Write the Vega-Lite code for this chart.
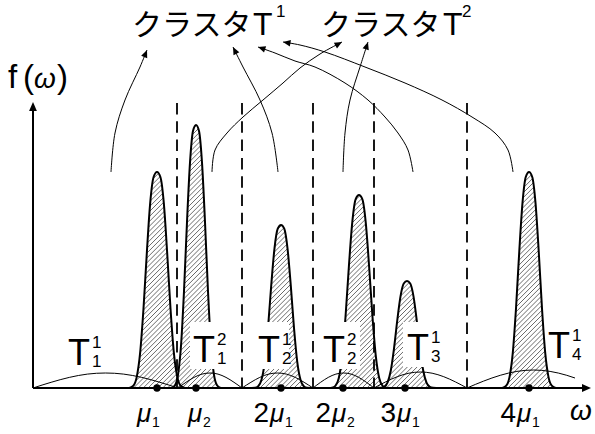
{
"$schema":"https://vega.github.io/schema/vega-lite/v6.json",
"width":595,"height":434,
"autosize":{"type":"fit","contains":"padding"},
"padding":0,
"background":"white",
"config":{"view":{"stroke":null}},
"datasets":{
"hatch":[{"x":126.6,"f":0},{"x":130,"f":0.3},{"x":133.4,"f":2.3},{"x":136.7,"f":10.9},{"x":140.1,"f":34.8},{"x":143.5,"f":79.5},{"x":146.9,"f":136.3},{"x":150.2,"f":185.1},{"x":153.6,"f":211},{"x":157,"f":216},{"x":160.4,"f":211},{"x":163.8,"f":185.1},{"x":167.1,"f":136.3},{"x":170.5,"f":79.5},{"x":173.9,"f":34.8},{"x":177.5,"f":10.5},{"x":181,"f":42.3},{"x":184,"f":96.8},{"x":187,"f":166},{"x":190,"f":225.4},{"x":193,"f":257},{"x":196,"f":263},{"x":199,"f":257},{"x":202,"f":225.4},{"x":205,"f":166},{"x":208,"f":96.8},{"x":211,"f":42.3},{"x":214,"f":13.2},{"x":217,"f":2.8},{"x":220,"f":0.4},{"x":223,"f":0},
{"x":251.75,"f":0},{"x":255,"f":0.2},{"x":258.25,"f":1.8},{"x":261.5,"f":8.2},{"x":264.75,"f":26.2},{"x":268,"f":60},{"x":271.25,"f":102.9},{"x":274.5,"f":139.7},{"x":277.75,"f":159.3},{"x":281,"f":163},{"x":284.25,"f":159.3},{"x":287.5,"f":139.7},{"x":290.75,"f":102.9},{"x":294,"f":60},{"x":297.25,"f":26.2},{"x":300.5,"f":8.2},{"x":303.75,"f":1.8},{"x":307,"f":0.2},{"x":310.25,"f":0},
{"x":328.6,"f":0},{"x":332,"f":0.3},{"x":335.4,"f":2.1},{"x":338.75,"f":9.7},{"x":342.1,"f":31.1},{"x":345.5,"f":71},{"x":348.9,"f":121.8},{"x":352.25,"f":165.4},{"x":355.6,"f":188.6},{"x":359,"f":193},{"x":362.4,"f":188.6},{"x":365.75,"f":165.4},{"x":369.1,"f":121.8},{"x":372.5,"f":71},{"x":375.9,"f":31.1},{"x":379.25,"f":9.7},{"x":382.6,"f":2.1},{"x":384.25,"f":1.2},{"x":387.5,"f":5.4},{"x":390.75,"f":17.2},{"x":394,"f":39.4},{"x":397.25,"f":67.5},{"x":400.5,"f":91.7},{"x":403.75,"f":104.5},{"x":407,"f":107},{"x":410.25,"f":104.5},{"x":413.5,"f":91.7},{"x":416.75,"f":67.5},{"x":420,"f":39.4},{"x":423.25,"f":17.2},{"x":426.5,"f":5.4},{"x":429.75,"f":1.2},{"x":433,"f":0.2},{"x":436.25,"f":0},
{"x":499.75,"f":0},{"x":503,"f":0.3},{"x":506.25,"f":2.3},{"x":509.5,"f":10.9},{"x":512.75,"f":34.8},{"x":516,"f":79.5},{"x":519.25,"f":136.3},{"x":522.5,"f":185.1},{"x":525.75,"f":211},{"x":529,"f":216},{"x":532.25,"f":211},{"x":535.5,"f":185.1},{"x":538.75,"f":136.3},{"x":542,"f":79.5},{"x":545.25,"f":34.8},{"x":548.5,"f":10.9},{"x":551.75,"f":2.3},{"x":555,"f":0.3},{"x":558.25,"f":0}],
"peaks":[
{"p":1,"x":126.6,"f":0},{"p":1,"x":130,"f":0.3},{"p":1,"x":133.4,"f":2.3},{"p":1,"x":136.7,"f":10.9},{"p":1,"x":140.1,"f":34.8},{"p":1,"x":143.5,"f":79.5},{"p":1,"x":146.9,"f":136.3},{"p":1,"x":150.2,"f":185.1},{"p":1,"x":153.6,"f":211},{"p":1,"x":157,"f":216},{"p":1,"x":160.4,"f":211},{"p":1,"x":163.8,"f":185.1},{"p":1,"x":167.1,"f":136.3},{"p":1,"x":170.5,"f":79.5},{"p":1,"x":173.9,"f":34.8},{"p":1,"x":177.3,"f":10.9},{"p":1,"x":180.6,"f":2.3},{"p":1,"x":184,"f":0.3},{"p":1,"x":187.4,"f":0},
{"p":2,"x":169,"f":0},{"p":2,"x":172,"f":0.4},{"p":2,"x":175,"f":2.8},{"p":2,"x":178,"f":13.2},{"p":2,"x":181,"f":42.3},{"p":2,"x":184,"f":96.8},{"p":2,"x":187,"f":166},{"p":2,"x":190,"f":225.4},{"p":2,"x":193,"f":257},{"p":2,"x":196,"f":263},{"p":2,"x":199,"f":257},{"p":2,"x":202,"f":225.4},{"p":2,"x":205,"f":166},{"p":2,"x":208,"f":96.8},{"p":2,"x":211,"f":42.3},{"p":2,"x":214,"f":13.2},{"p":2,"x":217,"f":2.8},{"p":2,"x":220,"f":0.4},{"p":2,"x":223,"f":0},
{"p":3,"x":251.75,"f":0},{"p":3,"x":255,"f":0.2},{"p":3,"x":258.25,"f":1.8},{"p":3,"x":261.5,"f":8.2},{"p":3,"x":264.75,"f":26.2},{"p":3,"x":268,"f":60},{"p":3,"x":271.25,"f":102.9},{"p":3,"x":274.5,"f":139.7},{"p":3,"x":277.75,"f":159.3},{"p":3,"x":281,"f":163},{"p":3,"x":284.25,"f":159.3},{"p":3,"x":287.5,"f":139.7},{"p":3,"x":290.75,"f":102.9},{"p":3,"x":294,"f":60},{"p":3,"x":297.25,"f":26.2},{"p":3,"x":300.5,"f":8.2},{"p":3,"x":303.75,"f":1.8},{"p":3,"x":307,"f":0.2},{"p":3,"x":310.25,"f":0},
{"p":4,"x":328.6,"f":0},{"p":4,"x":332,"f":0.3},{"p":4,"x":335.4,"f":2.1},{"p":4,"x":338.75,"f":9.7},{"p":4,"x":342.1,"f":31.1},{"p":4,"x":345.5,"f":71},{"p":4,"x":348.9,"f":121.8},{"p":4,"x":352.25,"f":165.4},{"p":4,"x":355.6,"f":188.6},{"p":4,"x":359,"f":193},{"p":4,"x":362.4,"f":188.6},{"p":4,"x":365.75,"f":165.4},{"p":4,"x":369.1,"f":121.8},{"p":4,"x":372.5,"f":71},{"p":4,"x":375.9,"f":31.1},{"p":4,"x":379.25,"f":9.7},{"p":4,"x":382.6,"f":2.1},{"p":4,"x":386,"f":0.3},{"p":4,"x":389.4,"f":0},
{"p":5,"x":377.75,"f":0},{"p":5,"x":381,"f":0.2},{"p":5,"x":384.25,"f":1.2},{"p":5,"x":387.5,"f":5.4},{"p":5,"x":390.75,"f":17.2},{"p":5,"x":394,"f":39.4},{"p":5,"x":397.25,"f":67.5},{"p":5,"x":400.5,"f":91.7},{"p":5,"x":403.75,"f":104.5},{"p":5,"x":407,"f":107},{"p":5,"x":410.25,"f":104.5},{"p":5,"x":413.5,"f":91.7},{"p":5,"x":416.75,"f":67.5},{"p":5,"x":420,"f":39.4},{"p":5,"x":423.25,"f":17.2},{"p":5,"x":426.5,"f":5.4},{"p":5,"x":429.75,"f":1.2},{"p":5,"x":433,"f":0.2},{"p":5,"x":436.25,"f":0},
{"p":6,"x":499.75,"f":0},{"p":6,"x":503,"f":0.3},{"p":6,"x":506.25,"f":2.3},{"p":6,"x":509.5,"f":10.9},{"p":6,"x":512.75,"f":34.8},{"p":6,"x":516,"f":79.5},{"p":6,"x":519.25,"f":136.3},{"p":6,"x":522.5,"f":185.1},{"p":6,"x":525.75,"f":211},{"p":6,"x":529,"f":216},{"p":6,"x":532.25,"f":211},{"p":6,"x":535.5,"f":185.1},{"p":6,"x":538.75,"f":136.3},{"p":6,"x":542,"f":79.5},{"p":6,"x":545.25,"f":34.8},{"p":6,"x":548.5,"f":10.9},{"p":6,"x":551.75,"f":2.3},{"p":6,"x":555,"f":0.3},{"p":6,"x":558.25,"f":0}],
"arcs":[
{"a":"A","x":33,"f":0},{"a":"A","x":51.1,"f":5.7},{"a":"A","x":69.3,"f":10.6},{"a":"A","x":87.4,"f":13.9},{"a":"A","x":105.5,"f":15},{"a":"A","x":123.6,"f":13.9},{"a":"A","x":141.8,"f":10.6},{"a":"A","x":159.9,"f":5.7},{"a":"A","x":178,"f":0},
{"a":"B","x":178,"f":0},{"a":"B","x":186,"f":5.7},{"a":"B","x":194,"f":10.6},{"a":"B","x":202,"f":13.9},{"a":"B","x":210,"f":15},{"a":"B","x":218,"f":13.9},{"a":"B","x":226,"f":10.6},{"a":"B","x":234,"f":5.7},{"a":"B","x":242,"f":0},
{"a":"C","x":242,"f":0},{"a":"C","x":250.9,"f":5.7},{"a":"C","x":259.75,"f":10.6},{"a":"C","x":268.6,"f":13.9},{"a":"C","x":277.5,"f":15},{"a":"C","x":286.4,"f":13.9},{"a":"C","x":295.25,"f":10.6},{"a":"C","x":304.1,"f":5.7},{"a":"C","x":313,"f":0},
{"a":"D","x":313,"f":0},{"a":"D","x":320.6,"f":5.7},{"a":"D","x":328.25,"f":10.6},{"a":"D","x":335.9,"f":13.9},{"a":"D","x":343.5,"f":15},{"a":"D","x":351.1,"f":13.9},{"a":"D","x":358.75,"f":10.6},{"a":"D","x":366.4,"f":5.7},{"a":"D","x":374,"f":0},
{"a":"E","x":374,"f":0},{"a":"E","x":385.6,"f":6.1},{"a":"E","x":397.25,"f":11.3},{"a":"E","x":408.9,"f":14.8},{"a":"E","x":420.5,"f":16},{"a":"E","x":432.1,"f":14.8},{"a":"E","x":443.75,"f":11.3},{"a":"E","x":455.4,"f":6.1},{"a":"E","x":467,"f":0},
{"a":"F","x":467,"f":0},{"a":"F","x":483.6,"f":6.9},{"a":"F","x":500.25,"f":12.7},{"a":"F","x":516.9,"f":16.6},{"a":"F","x":533.5,"f":18},{"a":"F","x":550.1,"f":16.6},{"a":"F","x":566.75,"f":12.7},{"a":"F","x":575,"f":10}],
"dash":[{"x":177,"f":285,"f2":0},{"x":242,"f":285,"f2":0},{"x":313,"f":285,"f2":0},{"x":374,"f":285,"f2":0},{"x":467,"f":285,"f2":0}],
"boxes":[{"x":190,"x2":232,"f":19,"f2":66},{"x":254,"x2":289,"f":19,"f2":66},{"x":319,"x2":360,"f":19,"f2":66},{"x":403,"x2":445,"f":21,"f2":66}],
"tlab":[{"x":68,"f":23,"sup":"1","sub":"1"},{"x":193,"f":26,"sup":"2","sub":"1"},{"x":258,"f":26,"sup":"1","sub":"2"},{"x":323,"f":26,"sup":"2","sub":"2"},{"x":407,"f":28,"sup":"1","sub":"3"},{"x":548,"f":30,"sup":"1","sub":"4"}],
"dots":[{"x":157,"f":0},{"x":196,"f":0},{"x":281,"f":0},{"x":343,"f":0},{"x":405,"f":0},{"x":529,"f":0}],
"axes":[{"x":33,"f":0,"x2":33,"f2":280},{"x":33,"f":0,"x2":585,"f2":0}],
"axisheads":[{"x":33,"f":286,"ang":0},{"x":591,"f":0,"ang":90}],
"arrows":[
{"id":"a","i":0,"x":111,"f":216},{"id":"a","i":1,"x":115,"f":255},{"id":"a","i":2,"x":125,"f":288},{"id":"a","i":3,"x":140,"f":321},{"id":"a","i":4,"x":147,"f":338},
{"id":"b","i":0,"x":278,"f":216},{"id":"b","i":1,"x":272,"f":255},{"id":"b","i":2,"x":260,"f":288},{"id":"b","i":3,"x":243,"f":321},{"id":"b","i":4,"x":233,"f":341},
{"id":"c","i":0,"x":212,"f":216},{"id":"c","i":1,"x":215,"f":238},{"id":"c","i":2,"x":227,"f":255},{"id":"c","i":3,"x":243,"f":271},{"id":"c","i":4,"x":263,"f":288},{"id":"c","i":5,"x":283,"f":305},{"id":"c","i":6,"x":300,"f":320},{"id":"c","i":7,"x":320,"f":334},{"id":"c","i":8,"x":342,"f":346},
{"id":"d","i":0,"x":343,"f":216},{"id":"d","i":1,"x":345,"f":255},{"id":"d","i":2,"x":350,"f":288},{"id":"d","i":3,"x":360,"f":321},{"id":"d","i":4,"x":368,"f":346},
{"id":"e","i":0,"x":413,"f":216},{"id":"e","i":1,"x":408,"f":238},{"id":"e","i":2,"x":398,"f":255},{"id":"e","i":3,"x":385,"f":271},{"id":"e","i":4,"x":368,"f":288},{"id":"e","i":5,"x":345,"f":305},{"id":"e","i":6,"x":315,"f":321},{"id":"e","i":7,"x":295,"f":327},{"id":"e","i":8,"x":275,"f":335},{"id":"e","i":9,"x":258,"f":341},
{"id":"f","i":0,"x":513,"f":216},{"id":"f","i":1,"x":508,"f":238},{"id":"f","i":2,"x":495,"f":255},{"id":"f","i":3,"x":472,"f":271},{"id":"f","i":4,"x":442,"f":288},{"id":"f","i":5,"x":405,"f":305},{"id":"f","i":6,"x":365,"f":321},{"id":"f","i":7,"x":325,"f":336},{"id":"f","i":8,"x":300,"f":343},{"id":"f","i":9,"x":283,"f":346}],
"heads":[{"x":147,"f":338,"ang":22},{"x":233,"f":341,"ang":333},{"x":342,"f":346,"ang":61},{"x":368,"f":346,"ang":18},{"x":258,"f":341,"ang":289},{"x":283,"f":346,"ang":280}],
"mlab":[{"x":137,"f":-34,"coef":"","sub":"1"},{"x":188,"f":-34,"coef":"","sub":"2"},{"x":270,"f":-34,"coef":"2","sub":"1"},{"x":332,"f":-34,"coef":"2","sub":"2"},{"x":397,"f":-34,"coef":"3","sub":"1"},{"x":517,"f":-34,"coef":"4","sub":"1"}],
"omega":[{"x":570,"f":-32,"t":"ω"},{"x":34,"f":300,"t":"ω"}],
"ylab":[{"x":8,"f":300,"t":"f"},{"x":23,"f":300,"t":"("},{"x":57,"f":300,"t":")"}],
"titles":[{"x":132,"f":353,"t":"クラスタ"},{"x":321,"f":353,"t":"クラスタ"}],
"titleT":[{"x":253,"f":353,"t":"T"},{"x":443,"f":353,"t":"T"}],
"titlesup":[{"x":276,"f":371,"t":"1"},{"x":462,"f":371,"t":"2"}]
},
"encoding":{
"x":{"field":"x","type":"quantitative","scale":{"domain":[0,595],"nice":false,"zero":false},"axis":null},
"y":{"field":"f","type":"quantitative","scale":{"domain":[-46,388],"nice":false,"zero":false},"axis":null}
},
"layer":[
{"data":{"name":"hatch"},"mark":{"type":"area","interpolate":"monotone","strokeWidth":0,"fill":{"gradient":"linear","x1":0,"y1":0,"x2":1.1737,"y2":0.7151,"stops":[
{"offset":0.0021,"color":"#fff"},{"offset":0.0035,"color":"#666"},{"offset":0.0049,"color":"#fff"},
{"offset":0.0091,"color":"#fff"},{"offset":0.0105,"color":"#666"},{"offset":0.0119,"color":"#fff"},
{"offset":0.0161,"color":"#fff"},{"offset":0.0175,"color":"#666"},{"offset":0.0189,"color":"#fff"},
{"offset":0.0231,"color":"#fff"},{"offset":0.0245,"color":"#666"},{"offset":0.0259,"color":"#fff"},
{"offset":0.0301,"color":"#fff"},{"offset":0.0315,"color":"#666"},{"offset":0.0329,"color":"#fff"},
{"offset":0.0371,"color":"#fff"},{"offset":0.0385,"color":"#666"},{"offset":0.0399,"color":"#fff"},
{"offset":0.0441,"color":"#fff"},{"offset":0.0455,"color":"#666"},{"offset":0.0469,"color":"#fff"},
{"offset":0.0511,"color":"#fff"},{"offset":0.0525,"color":"#666"},{"offset":0.0539,"color":"#fff"},
{"offset":0.0581,"color":"#fff"},{"offset":0.0595,"color":"#666"},{"offset":0.0609,"color":"#fff"},
{"offset":0.0651,"color":"#fff"},{"offset":0.0665,"color":"#666"},{"offset":0.0679,"color":"#fff"},
{"offset":0.0721,"color":"#fff"},{"offset":0.0735,"color":"#666"},{"offset":0.0749,"color":"#fff"},
{"offset":0.0791,"color":"#fff"},{"offset":0.0805,"color":"#666"},{"offset":0.0819,"color":"#fff"},
{"offset":0.0861,"color":"#fff"},{"offset":0.0875,"color":"#666"},{"offset":0.0889,"color":"#fff"},
{"offset":0.0931,"color":"#fff"},{"offset":0.0945,"color":"#666"},{"offset":0.0959,"color":"#fff"},
{"offset":0.1001,"color":"#fff"},{"offset":0.1015,"color":"#666"},{"offset":0.1029,"color":"#fff"},
{"offset":0.1071,"color":"#fff"},{"offset":0.1085,"color":"#666"},{"offset":0.1099,"color":"#fff"},
{"offset":0.1141,"color":"#fff"},{"offset":0.1155,"color":"#666"},{"offset":0.1169,"color":"#fff"},
{"offset":0.1211,"color":"#fff"},{"offset":0.1225,"color":"#666"},{"offset":0.1239,"color":"#fff"},
{"offset":0.1281,"color":"#fff"},{"offset":0.1295,"color":"#666"},{"offset":0.1309,"color":"#fff"},
{"offset":0.1351,"color":"#fff"},{"offset":0.1365,"color":"#666"},{"offset":0.1379,"color":"#fff"},
{"offset":0.1421,"color":"#fff"},{"offset":0.1435,"color":"#666"},{"offset":0.1449,"color":"#fff"},
{"offset":0.1491,"color":"#fff"},{"offset":0.1505,"color":"#666"},{"offset":0.1519,"color":"#fff"},
{"offset":0.1561,"color":"#fff"},{"offset":0.1575,"color":"#666"},{"offset":0.1589,"color":"#fff"},
{"offset":0.1631,"color":"#fff"},{"offset":0.1645,"color":"#666"},{"offset":0.1659,"color":"#fff"},
{"offset":0.1701,"color":"#fff"},{"offset":0.1715,"color":"#666"},{"offset":0.1729,"color":"#fff"},
{"offset":0.1771,"color":"#fff"},{"offset":0.1785,"color":"#666"},{"offset":0.1799,"color":"#fff"},
{"offset":0.1841,"color":"#fff"},{"offset":0.1855,"color":"#666"},{"offset":0.1869,"color":"#fff"},
{"offset":0.1911,"color":"#fff"},{"offset":0.1925,"color":"#666"},{"offset":0.1939,"color":"#fff"},
{"offset":0.1981,"color":"#fff"},{"offset":0.1995,"color":"#666"},{"offset":0.2009,"color":"#fff"},
{"offset":0.2051,"color":"#fff"},{"offset":0.2065,"color":"#666"},{"offset":0.2079,"color":"#fff"},
{"offset":0.2121,"color":"#fff"},{"offset":0.2135,"color":"#666"},{"offset":0.2149,"color":"#fff"},
{"offset":0.2191,"color":"#fff"},{"offset":0.2205,"color":"#666"},{"offset":0.2219,"color":"#fff"},
{"offset":0.2261,"color":"#fff"},{"offset":0.2275,"color":"#666"},{"offset":0.2289,"color":"#fff"},
{"offset":0.2331,"color":"#fff"},{"offset":0.2345,"color":"#666"},{"offset":0.2359,"color":"#fff"},
{"offset":0.2401,"color":"#fff"},{"offset":0.2415,"color":"#666"},{"offset":0.2429,"color":"#fff"},
{"offset":0.2471,"color":"#fff"},{"offset":0.2485,"color":"#666"},{"offset":0.2499,"color":"#fff"},
{"offset":0.2541,"color":"#fff"},{"offset":0.2555,"color":"#666"},{"offset":0.2569,"color":"#fff"},
{"offset":0.2611,"color":"#fff"},{"offset":0.2625,"color":"#666"},{"offset":0.2639,"color":"#fff"},
{"offset":0.2681,"color":"#fff"},{"offset":0.2695,"color":"#666"},{"offset":0.2709,"color":"#fff"},
{"offset":0.2751,"color":"#fff"},{"offset":0.2765,"color":"#666"},{"offset":0.2779,"color":"#fff"},
{"offset":0.2821,"color":"#fff"},{"offset":0.2835,"color":"#666"},{"offset":0.2849,"color":"#fff"},
{"offset":0.2891,"color":"#fff"},{"offset":0.2905,"color":"#666"},{"offset":0.2919,"color":"#fff"},
{"offset":0.2961,"color":"#fff"},{"offset":0.2975,"color":"#666"},{"offset":0.2989,"color":"#fff"},
{"offset":0.3031,"color":"#fff"},{"offset":0.3045,"color":"#666"},{"offset":0.3059,"color":"#fff"},
{"offset":0.3101,"color":"#fff"},{"offset":0.3115,"color":"#666"},{"offset":0.3129,"color":"#fff"},
{"offset":0.3171,"color":"#fff"},{"offset":0.3185,"color":"#666"},{"offset":0.3199,"color":"#fff"},
{"offset":0.3241,"color":"#fff"},{"offset":0.3255,"color":"#666"},{"offset":0.3269,"color":"#fff"},
{"offset":0.3311,"color":"#fff"},{"offset":0.3325,"color":"#666"},{"offset":0.3339,"color":"#fff"},
{"offset":0.3381,"color":"#fff"},{"offset":0.3395,"color":"#666"},{"offset":0.3409,"color":"#fff"},
{"offset":0.3451,"color":"#fff"},{"offset":0.3465,"color":"#666"},{"offset":0.3479,"color":"#fff"},
{"offset":0.3521,"color":"#fff"},{"offset":0.3535,"color":"#666"},{"offset":0.3549,"color":"#fff"},
{"offset":0.3591,"color":"#fff"},{"offset":0.3605,"color":"#666"},{"offset":0.3619,"color":"#fff"},
{"offset":0.3661,"color":"#fff"},{"offset":0.3675,"color":"#666"},{"offset":0.3689,"color":"#fff"},
{"offset":0.3731,"color":"#fff"},{"offset":0.3745,"color":"#666"},{"offset":0.3759,"color":"#fff"},
{"offset":0.3801,"color":"#fff"},{"offset":0.3815,"color":"#666"},{"offset":0.3829,"color":"#fff"},
{"offset":0.3871,"color":"#fff"},{"offset":0.3885,"color":"#666"},{"offset":0.3899,"color":"#fff"},
{"offset":0.3941,"color":"#fff"},{"offset":0.3955,"color":"#666"},{"offset":0.3969,"color":"#fff"},
{"offset":0.4011,"color":"#fff"},{"offset":0.4025,"color":"#666"},{"offset":0.4039,"color":"#fff"},
{"offset":0.4081,"color":"#fff"},{"offset":0.4095,"color":"#666"},{"offset":0.4109,"color":"#fff"},
{"offset":0.4151,"color":"#fff"},{"offset":0.4165,"color":"#666"},{"offset":0.4179,"color":"#fff"},
{"offset":0.4221,"color":"#fff"},{"offset":0.4235,"color":"#666"},{"offset":0.4249,"color":"#fff"},
{"offset":0.4291,"color":"#fff"},{"offset":0.4305,"color":"#666"},{"offset":0.4319,"color":"#fff"},
{"offset":0.4361,"color":"#fff"},{"offset":0.4375,"color":"#666"},{"offset":0.4389,"color":"#fff"},
{"offset":0.4431,"color":"#fff"},{"offset":0.4445,"color":"#666"},{"offset":0.4459,"color":"#fff"},
{"offset":0.4501,"color":"#fff"},{"offset":0.4515,"color":"#666"},{"offset":0.4529,"color":"#fff"},
{"offset":0.4571,"color":"#fff"},{"offset":0.4585,"color":"#666"},{"offset":0.4599,"color":"#fff"},
{"offset":0.4641,"color":"#fff"},{"offset":0.4655,"color":"#666"},{"offset":0.4669,"color":"#fff"},
{"offset":0.4711,"color":"#fff"},{"offset":0.4725,"color":"#666"},{"offset":0.4739,"color":"#fff"},
{"offset":0.4781,"color":"#fff"},{"offset":0.4795,"color":"#666"},{"offset":0.4809,"color":"#fff"},
{"offset":0.4851,"color":"#fff"},{"offset":0.4865,"color":"#666"},{"offset":0.4879,"color":"#fff"},
{"offset":0.4921,"color":"#fff"},{"offset":0.4935,"color":"#666"},{"offset":0.4949,"color":"#fff"},
{"offset":0.4991,"color":"#fff"},{"offset":0.5005,"color":"#666"},{"offset":0.5019,"color":"#fff"},
{"offset":0.5061,"color":"#fff"},{"offset":0.5075,"color":"#666"},{"offset":0.5089,"color":"#fff"},
{"offset":0.5131,"color":"#fff"},{"offset":0.5145,"color":"#666"},{"offset":0.5159,"color":"#fff"},
{"offset":0.5201,"color":"#fff"},{"offset":0.5215,"color":"#666"},{"offset":0.5229,"color":"#fff"},
{"offset":0.5271,"color":"#fff"},{"offset":0.5285,"color":"#666"},{"offset":0.5299,"color":"#fff"},
{"offset":0.5341,"color":"#fff"},{"offset":0.5355,"color":"#666"},{"offset":0.5369,"color":"#fff"},
{"offset":0.5411,"color":"#fff"},{"offset":0.5425,"color":"#666"},{"offset":0.5439,"color":"#fff"},
{"offset":0.5481,"color":"#fff"},{"offset":0.5495,"color":"#666"},{"offset":0.5509,"color":"#fff"},
{"offset":0.5551,"color":"#fff"},{"offset":0.5565,"color":"#666"},{"offset":0.5579,"color":"#fff"},
{"offset":0.5621,"color":"#fff"},{"offset":0.5635,"color":"#666"},{"offset":0.5649,"color":"#fff"},
{"offset":0.5691,"color":"#fff"},{"offset":0.5705,"color":"#666"},{"offset":0.5719,"color":"#fff"},
{"offset":0.5761,"color":"#fff"},{"offset":0.5775,"color":"#666"},{"offset":0.5789,"color":"#fff"},
{"offset":0.5831,"color":"#fff"},{"offset":0.5845,"color":"#666"},{"offset":0.5859,"color":"#fff"},
{"offset":0.5901,"color":"#fff"},{"offset":0.5915,"color":"#666"},{"offset":0.5929,"color":"#fff"},
{"offset":0.5971,"color":"#fff"},{"offset":0.5985,"color":"#666"},{"offset":0.5999,"color":"#fff"},
{"offset":0.6041,"color":"#fff"},{"offset":0.6055,"color":"#666"},{"offset":0.6069,"color":"#fff"},
{"offset":0.6111,"color":"#fff"},{"offset":0.6125,"color":"#666"},{"offset":0.6139,"color":"#fff"},
{"offset":0.6181,"color":"#fff"},{"offset":0.6195,"color":"#666"},{"offset":0.6209,"color":"#fff"},
{"offset":0.6251,"color":"#fff"},{"offset":0.6265,"color":"#666"},{"offset":0.6279,"color":"#fff"},
{"offset":0.6321,"color":"#fff"},{"offset":0.6335,"color":"#666"},{"offset":0.6349,"color":"#fff"},
{"offset":0.6391,"color":"#fff"},{"offset":0.6405,"color":"#666"},{"offset":0.6419,"color":"#fff"},
{"offset":0.6461,"color":"#fff"},{"offset":0.6475,"color":"#666"},{"offset":0.6489,"color":"#fff"},
{"offset":0.6531,"color":"#fff"},{"offset":0.6545,"color":"#666"},{"offset":0.6559,"color":"#fff"},
{"offset":0.6601,"color":"#fff"},{"offset":0.6615,"color":"#666"},{"offset":0.6629,"color":"#fff"},
{"offset":0.6671,"color":"#fff"},{"offset":0.6685,"color":"#666"},{"offset":0.6699,"color":"#fff"},
{"offset":0.6741,"color":"#fff"},{"offset":0.6755,"color":"#666"},{"offset":0.6769,"color":"#fff"},
{"offset":0.6811,"color":"#fff"},{"offset":0.6825,"color":"#666"},{"offset":0.6839,"color":"#fff"},
{"offset":0.6881,"color":"#fff"},{"offset":0.6895,"color":"#666"},{"offset":0.6909,"color":"#fff"},
{"offset":0.6951,"color":"#fff"},{"offset":0.6965,"color":"#666"},{"offset":0.6979,"color":"#fff"},
{"offset":0.7021,"color":"#fff"},{"offset":0.7035,"color":"#666"},{"offset":0.7049,"color":"#fff"},
{"offset":0.7091,"color":"#fff"},{"offset":0.7105,"color":"#666"},{"offset":0.7119,"color":"#fff"},
{"offset":0.7161,"color":"#fff"},{"offset":0.7175,"color":"#666"},{"offset":0.7189,"color":"#fff"},
{"offset":0.7231,"color":"#fff"},{"offset":0.7245,"color":"#666"},{"offset":0.7259,"color":"#fff"},
{"offset":0.7301,"color":"#fff"},{"offset":0.7315,"color":"#666"},{"offset":0.7329,"color":"#fff"},
{"offset":0.7371,"color":"#fff"},{"offset":0.7385,"color":"#666"},{"offset":0.7399,"color":"#fff"},
{"offset":0.7441,"color":"#fff"},{"offset":0.7455,"color":"#666"},{"offset":0.7469,"color":"#fff"},
{"offset":0.7511,"color":"#fff"},{"offset":0.7525,"color":"#666"},{"offset":0.7539,"color":"#fff"},
{"offset":0.7581,"color":"#fff"},{"offset":0.7595,"color":"#666"},{"offset":0.7609,"color":"#fff"},
{"offset":0.7651,"color":"#fff"},{"offset":0.7665,"color":"#666"},{"offset":0.7679,"color":"#fff"},
{"offset":0.7721,"color":"#fff"},{"offset":0.7735,"color":"#666"},{"offset":0.7749,"color":"#fff"},
{"offset":0.7791,"color":"#fff"},{"offset":0.7805,"color":"#666"},{"offset":0.7819,"color":"#fff"},
{"offset":0.7861,"color":"#fff"},{"offset":0.7875,"color":"#666"},{"offset":0.7889,"color":"#fff"},
{"offset":0.7931,"color":"#fff"},{"offset":0.7945,"color":"#666"},{"offset":0.7959,"color":"#fff"},
{"offset":0.8001,"color":"#fff"},{"offset":0.8015,"color":"#666"},{"offset":0.8029,"color":"#fff"},
{"offset":0.8071,"color":"#fff"},{"offset":0.8085,"color":"#666"},{"offset":0.8099,"color":"#fff"},
{"offset":0.8141,"color":"#fff"},{"offset":0.8155,"color":"#666"},{"offset":0.8169,"color":"#fff"},
{"offset":0.8211,"color":"#fff"},{"offset":0.8225,"color":"#666"},{"offset":0.8239,"color":"#fff"},
{"offset":0.8281,"color":"#fff"},{"offset":0.8295,"color":"#666"},{"offset":0.8309,"color":"#fff"},
{"offset":0.8351,"color":"#fff"},{"offset":0.8365,"color":"#666"},{"offset":0.8379,"color":"#fff"},
{"offset":0.8421,"color":"#fff"},{"offset":0.8435,"color":"#666"},{"offset":0.8449,"color":"#fff"},
{"offset":0.8491,"color":"#fff"},{"offset":0.8505,"color":"#666"},{"offset":0.8519,"color":"#fff"},
{"offset":0.8561,"color":"#fff"},{"offset":0.8575,"color":"#666"},{"offset":0.8589,"color":"#fff"},
{"offset":0.8631,"color":"#fff"},{"offset":0.8645,"color":"#666"},{"offset":0.8659,"color":"#fff"},
{"offset":0.8701,"color":"#fff"},{"offset":0.8715,"color":"#666"},{"offset":0.8729,"color":"#fff"},
{"offset":0.8771,"color":"#fff"},{"offset":0.8785,"color":"#666"},{"offset":0.8799,"color":"#fff"},
{"offset":0.8841,"color":"#fff"},{"offset":0.8855,"color":"#666"},{"offset":0.8869,"color":"#fff"},
{"offset":0.8911,"color":"#fff"},{"offset":0.8925,"color":"#666"},{"offset":0.8939,"color":"#fff"},
{"offset":0.8981,"color":"#fff"},{"offset":0.8995,"color":"#666"},{"offset":0.9009,"color":"#fff"},
{"offset":0.9051,"color":"#fff"},{"offset":0.9065,"color":"#666"},{"offset":0.9079,"color":"#fff"},
{"offset":0.9121,"color":"#fff"},{"offset":0.9135,"color":"#666"},{"offset":0.9149,"color":"#fff"},
{"offset":0.9191,"color":"#fff"},{"offset":0.9205,"color":"#666"},{"offset":0.9219,"color":"#fff"},
{"offset":0.9261,"color":"#fff"},{"offset":0.9275,"color":"#666"},{"offset":0.9289,"color":"#fff"},
{"offset":0.9331,"color":"#fff"},{"offset":0.9345,"color":"#666"},{"offset":0.9359,"color":"#fff"},
{"offset":0.9401,"color":"#fff"},{"offset":0.9415,"color":"#666"},{"offset":0.9429,"color":"#fff"},
{"offset":0.9471,"color":"#fff"},{"offset":0.9485,"color":"#666"},{"offset":0.9499,"color":"#fff"},
{"offset":0.9541,"color":"#fff"},{"offset":0.9555,"color":"#666"},{"offset":0.9569,"color":"#fff"},
{"offset":0.9611,"color":"#fff"},{"offset":0.9625,"color":"#666"},{"offset":0.9639,"color":"#fff"},
{"offset":0.9681,"color":"#fff"},{"offset":0.9695,"color":"#666"},{"offset":0.9709,"color":"#fff"},
{"offset":0.9751,"color":"#fff"},{"offset":0.9765,"color":"#666"},{"offset":0.9779,"color":"#fff"},
{"offset":0.9821,"color":"#fff"},{"offset":0.9835,"color":"#666"},{"offset":0.9849,"color":"#fff"},
{"offset":0.9891,"color":"#fff"},{"offset":0.9905,"color":"#666"},{"offset":0.9919,"color":"#fff"},
{"offset":0.9961,"color":"#fff"},{"offset":0.9975,"color":"#666"},{"offset":0.9989,"color":"#fff"}
]}},"encoding":{"y2":{"datum":0}}},
{"data":{"name":"arcs"},"mark":{"type":"line","interpolate":"monotone","color":"black","strokeWidth":1},"encoding":{"detail":{"field":"a"}}},
{"data":{"name":"dash"},"mark":{"type":"rule","color":"black","strokeWidth":1.8,"strokeDash":[11.5,6.8]},"encoding":{"y2":{"field":"f2"}}},
{"data":{"name":"peaks"},"mark":{"type":"line","interpolate":"monotone","color":"black","strokeWidth":2},"encoding":{"detail":{"field":"p"}}},
{"data":{"name":"boxes"},"mark":{"type":"rect","fill":"white","strokeWidth":0},"encoding":{"x2":{"field":"x2"},"y2":{"field":"f2"}}},
{"data":{"name":"tlab"},"mark":{"type":"text","align":"left","baseline":"alphabetic","font":"Liberation Sans","fontSize":36,"color":"black"},"encoding":{"text":{"value":"T"}}},
{"data":{"name":"tlab"},"mark":{"type":"text","align":"left","baseline":"alphabetic","font":"Liberation Sans","fontSize":17,"dx":24,"dy":-17,"color":"black"},"encoding":{"text":{"field":"sup"}}},
{"data":{"name":"tlab"},"mark":{"type":"text","align":"left","baseline":"alphabetic","font":"Liberation Sans","fontSize":17,"dx":24,"dy":2,"color":"black"},"encoding":{"text":{"field":"sub"}}},
{"data":{"name":"dots"},"mark":{"type":"point","filled":true,"shape":"circle","size":55,"color":"black","opacity":1}},
{"data":{"name":"axes"},"mark":{"type":"rule","color":"black","strokeWidth":2},"encoding":{"x2":{"field":"x2"},"y2":{"field":"f2"}}},
{"data":{"name":"axisheads"},"mark":{"type":"point","filled":true,"shape":"M0,0L1.3,3L-1.3,3Z","size":36,"color":"black","opacity":1},"encoding":{"angle":{"field":"ang","type":"quantitative","scale":null}}},
{"data":{"name":"arrows"},"mark":{"type":"line","interpolate":"catmull-rom","color":"black","strokeWidth":1},"encoding":{"detail":{"field":"id"},"order":{"field":"i","type":"quantitative"}}},
{"data":{"name":"heads"},"mark":{"type":"point","filled":true,"shape":"M0,0L1.3,3L-1.3,3Z","size":25,"color":"black","opacity":1},"encoding":{"angle":{"field":"ang","type":"quantitative","scale":null}}},
{"data":{"name":"mlab"},"mark":{"type":"text","align":"right","baseline":"alphabetic","font":"Liberation Sans","fontSize":28,"dx":-1,"color":"black"},"encoding":{"text":{"field":"coef"}}},
{"data":{"name":"mlab"},"mark":{"type":"text","align":"left","baseline":"alphabetic","font":"Liberation Sans","fontStyle":"italic","fontSize":26,"color":"black"},"encoding":{"text":{"value":"μ"}}},
{"data":{"name":"mlab"},"mark":{"type":"text","align":"left","baseline":"alphabetic","font":"Liberation Sans","fontSize":14,"dx":15,"dy":5,"color":"black"},"encoding":{"text":{"field":"sub"}}},
{"data":{"name":"omega"},"mark":{"type":"text","align":"left","baseline":"alphabetic","font":"Liberation Sans","fontStyle":"italic","fontSize":28,"color":"black"},"encoding":{"text":{"field":"t"}}},
{"data":{"name":"ylab"},"mark":{"type":"text","align":"left","baseline":"alphabetic","font":"Liberation Sans","fontSize":33,"color":"black"},"encoding":{"text":{"field":"t"}}},
{"data":{"name":"titles"},"mark":{"type":"text","align":"left","baseline":"alphabetic","font":"Noto Sans CJK JP","fontSize":30,"color":"black"},"encoding":{"text":{"field":"t"}}},
{"data":{"name":"titleT"},"mark":{"type":"text","align":"left","baseline":"alphabetic","font":"Liberation Sans","fontSize":32,"color":"black"},"encoding":{"text":{"field":"t"}}},
{"data":{"name":"titlesup"},"mark":{"type":"text","align":"left","baseline":"alphabetic","font":"Liberation Sans","fontSize":17,"color":"black"},"encoding":{"text":{"field":"t"}}}
]
}
